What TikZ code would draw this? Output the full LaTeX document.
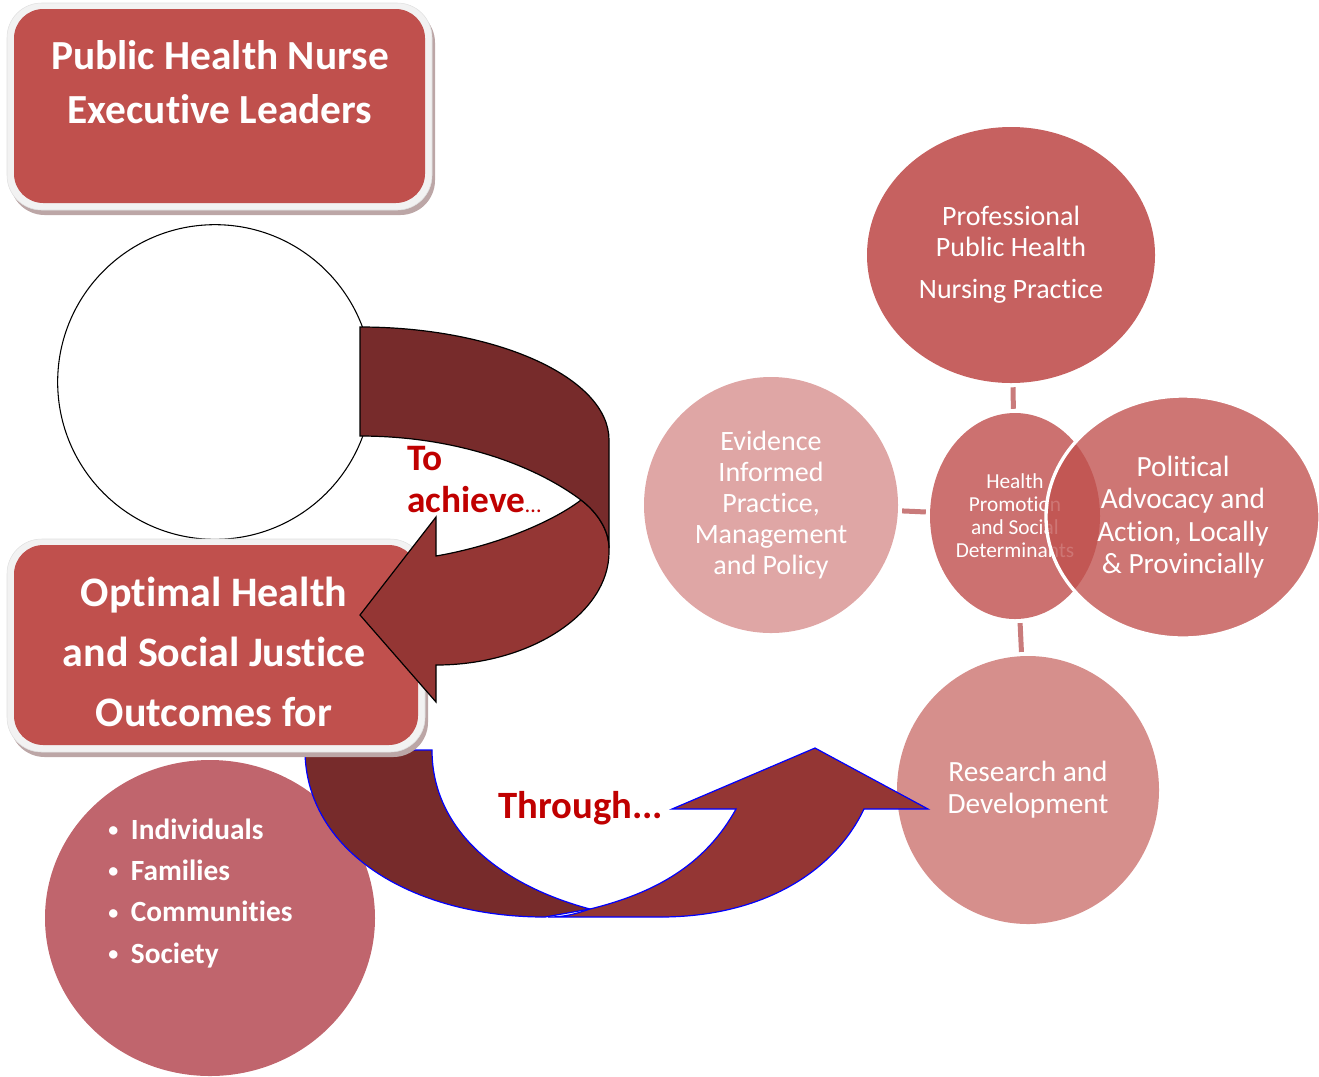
\documentclass[tikz,border=0pt]{standalone}
\usepackage{fontspec}
\setmainfont{Carlito}[Ligatures=NoCommon]
\usetikzlibrary{shapes.geometric}
\definecolor{BoxRed}{HTML}{C0504D}
\definecolor{Rim}{HTML}{F2F2F2}
\definecolor{Shade}{HTML}{BCA6A6}
\definecolor{ArrowDark}{HTML}{772B2B}
\definecolor{ArrowLight}{HTML}{943634}
\definecolor{Slogan}{HTML}{C00000}
\definecolor{Groups}{HTML}{C0656D}
\definecolor{Practice}{HTML}{C66160}
\definecolor{Evidence}{HTML}{DFA6A5}
\definecolor{Promotion}{HTML}{CC7170}
\definecolor{Research}{HTML}{D68F8C}
\definecolor{Link}{HTML}{C97B7B}

% rounded panel with light rim and soft shadow
\newcommand\panel[4]{%
  \fill[Shade, rounded corners=26pt] (#1+3,#2+5) rectangle (#3+3,#4+5);
  \filldraw[fill=Rim, draw=black!12, rounded corners=26pt] (#1,#2) rectangle (#3,#4);
  \fill[BoxRed, rounded corners=22pt] (#1+7,#2+6) rectangle (#3-7,#4-7);
}
\newcommand\dotitem{\makebox[17pt][l]{\raisebox{2pt}{\fontsize{15}{15}\selectfont\textbullet}}}

\tikzset{
  bubble/.style={ellipse, inner sep=0pt, text=white, align=center},
  link/.style={draw=Link, line width=3.75pt, shorten <=3pt, shorten >=3pt},
  slogan/.style={text=Slogan, font=\bfseries\fontsize{29}{32}\selectfont, inner sep=0pt},
  dark arrow/.style={fill=ArrowDark, line width=0.9pt},
  light arrow/.style={fill=ArrowLight, line width=0.9pt}
}

\begin{document}
\begin{tikzpicture}[x=0.75pt,y=-0.75pt]
  \useasboundingbox (0,0) rectangle (1319,1076);

  % practice domains
  \node[bubble, fill=Practice, minimum width=216pt, minimum height=192pt,
        font=\fontsize{21}{23.25}\selectfont] (prof) at (1011,255)
    {Professional\\Public Health\\[8pt]Nursing Practice};
  \node[bubble, fill=Evidence, minimum width=190.5pt, minimum height=192pt,
        font=\fontsize{21}{23.25}\selectfont] (evid) at (771,505)
    {Evidence\\Informed\\Practice,\\Management\\and Policy};
  \node[bubble, fill=Promotion, minimum width=127.5pt, minimum height=154.5pt,
        font=\fontsize{16}{17.25}\selectfont] (hp) at (1015,516)
    {Health\\Promotion\\and Social\\Determinants};
  \node[bubble, fill=Research, minimum width=196.5pt, minimum height=201pt,
        font=\fontsize{22}{24}\selectfont] (res) at (1028,790)
    {Research and\\Development};
  \node[bubble, fill=BoxRed, fill opacity=0.78, text opacity=1, draw=white, line width=2.5pt,
        minimum width=205.5pt, minimum height=181.5pt,
        font=\fontsize{22}{24.4}\selectfont] (pol) at (1183,517)
    {Political\\Advocacy and\\Action, Locally\\\& Provincially};

  \draw[link] (prof) -- (hp);
  \draw[link] (evid) -- (hp);
  \draw[link] (hp) -- (res);

  % left column
  \node[circle, draw=black, line width=0.8pt, fill=white, minimum size=236pt] (leader) at (215,382) {};
  \node[ellipse, fill=Groups, minimum width=247.5pt, minimum height=237pt] (people) at (210,918) {};
  \node[anchor=west, inner sep=0pt, text=white, align=left,
        font=\bfseries\fontsize{22}{31}\selectfont] (groups) at (108,893)
    {\dotitem Individuals\\
     \dotitem Families\\
     \dotitem Communities\\
     \dotitem Society};

  % curved up arrow
  \filldraw[dark arrow, draw=blue] (305,750) -- (432,750)
    .. controls (432,830) and (500,885) .. (590,909) -- (545,917)
    .. controls (410,917) and (305,850) .. (305,750) -- cycle;
  \filldraw[light arrow, draw=blue] (590,909) .. controls (575,914) and (565,917) .. (548,917) -- (660,917)
    .. controls (765,917) and (835,870) .. (864,809) -- (928,809) -- (815,748) -- (672,809) -- (736,809)
    .. controls (705,865) and (655,893) .. (590,909) -- cycle;
  \node[slogan, anchor=west] (through) at (498,808) {Through...};

  % title panels
  \panel{7}{3}{432}{210}
  \node[text=white, align=center, font=\bfseries\fontsize{31}{40}\selectfont] (leaders) at (220,82)
    {Public Health Nurse\\Executive Leaders};
  \panel{7}{539}{425}{752}
  \node[text=white, align=center, font=\bfseries\fontsize{31.5}{45}\selectfont] (outcomes) at (214,652)
    {Optimal Health\\and Social Justice\\Outcomes for};

  % curved left arrow
  \filldraw[light arrow, draw=black] (581,500) .. controls (597,512) and (609,530) .. (609,548) -- (609,552)
    .. controls (609,613) and (531,665) .. (436,665) -- (436,702) -- (360,615) -- (436,517) -- (436,556)
    .. controls (500,545) and (555,520) .. (581,500) -- cycle;
  \filldraw[dark arrow, draw=black] (360,327) .. controls (497,327) and (609,378) .. (609,440) -- (609,548)
    .. controls (609,530) and (597,512) .. (581,500)
    .. controls (530,462) and (450,436) .. (360,436) -- cycle;
  \node[slogan, anchor=west, align=left, font=\bfseries\fontsize{28}{31.5}\selectfont] (achieve) at (407,480)
    {To\\achieve{\mdseries\fontsize{17}{17}\selectfont\ldots}};
\end{tikzpicture}
\end{document}
